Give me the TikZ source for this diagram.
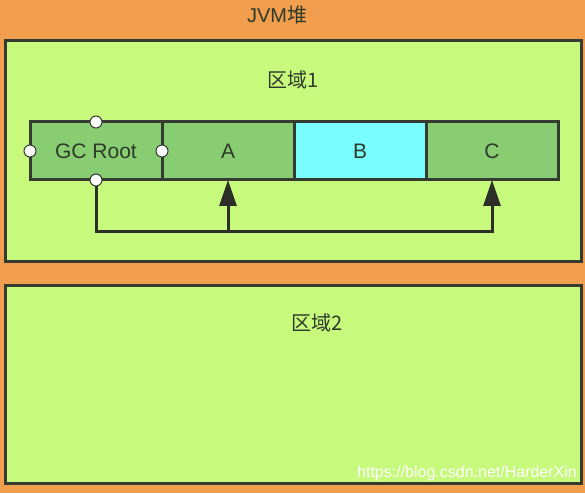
\documentclass[tikz,border=0pt]{standalone}
\usepackage{fontspec}
\setmainfont{Liberation Sans}
\newfontfamily\cjk{Noto Sans CJK SC}
\usetikzlibrary{positioning,arrows.meta}
\definecolor{heap}{HTML}{F19E4E}
\definecolor{zone}{HTML}{C7FA7C}
\definecolor{obj}{HTML}{89CD72}
\definecolor{gone}{HTML}{7AFDFE}
\definecolor{edge}{HTML}{363B32}
\definecolor{ink}{HTML}{2E3A2A}
\tikzset{
	zonebox/.style={draw=edge,fill=zone,line width=3pt},
	objbox/.style={draw=edge,fill=obj,line width=3pt,minimum width=132pt,minimum height=58pt,outer sep=0pt,text=ink,font=\fontsize{21}{25}\selectfont},
	label/.style={text=ink,font=\fontsize{20}{24}\selectfont},
	handle/.style={circle,draw=edge,fill=white,line width=1pt,minimum size=12pt,inner sep=0pt},
	ref/.style={draw=edge!80!black,line width=3pt,-{Triangle[length=26pt,width=17pt]}}
}
\begin{document}
\begin{tikzpicture}[x=1pt,y=1pt]
					\fill[heap] (0,0) rectangle (585,493);
					\draw[zonebox] (5,232) rectangle (581,452);
					\draw[zonebox] (5,10) rectangle (581,208);
					\node[label] (heaptitle) at (277,478) {JVM{\cjk 堆}};
					\node[label] (zone1) at (293,413) {\cjk 区域1};
					\node[label] (zone2) at (317,170) {\cjk 区域2};
					\node[objbox] (gc) at (96,342) {GC Root};
					\node[objbox,right=0pt of gc] (a) {A};
					\node[objbox,fill=gone,right=0pt of a] (b) {B};
					\node[objbox,right=0pt of b] (c) {C};
					\draw[ref] (gc.south) -- ++(0,-51) coordinate (bend) -| (c.south);
					\draw[ref] (bend -| a.south) -- (a.south);
					\foreach \side in {north,south,east,west}
						\node[handle] (gc-\side) at (gc.\side) {};
					\node[text=white,font=\fontsize{16}{19}\selectfont] (mark) at (467,20) {https://blog.csdn.net/HarderXin};
					\end{tikzpicture}
\end{document}
